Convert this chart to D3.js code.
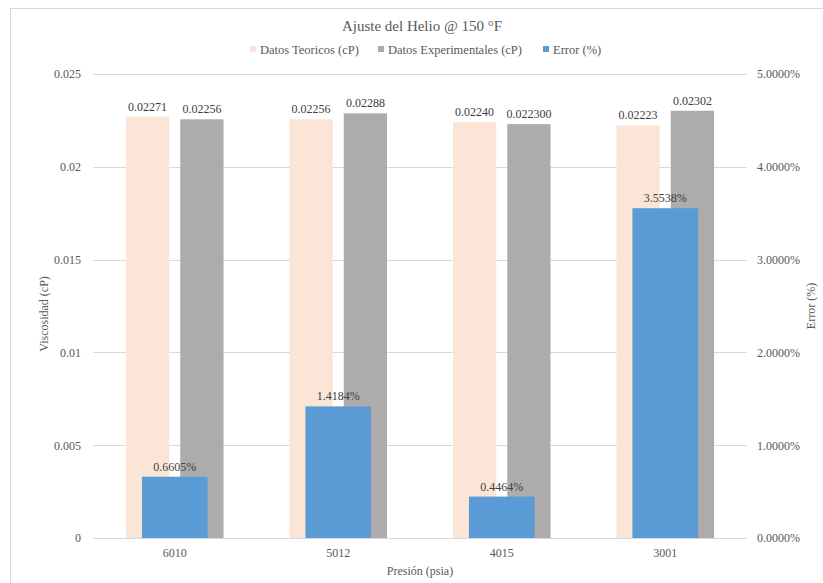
<!DOCTYPE html>
<html>
<head>
<meta charset="utf-8">
<script src="https://cdn.jsdelivr.net/npm/d3@7/dist/d3.min.js"></script>
<style>
  html, body { margin: 0; padding: 0; background: #fff; }
  svg { display: block; }
  svg text { font-family: "Liberation Serif", "Times New Roman", serif; }
</style>
</head>
<body>
<svg id="chart" width="823" height="583"></svg>
<script>
// Pressure categories (psia)
const categories = ["6010", "5012", "4015", "3001"];
// Viscosity values as printed (cP)
const teoricosText = ["0.02271", "0.02256", "0.02240", "0.02223"];
const experimentalesText = ["0.02256", "0.02288", "0.022300", "0.02302"];
// Relative error (%)
const errorPct = [0.6605, 1.4184, 0.4464, 3.5538];
// Axis ticks
const leftTicks = [0, 0.005, 0.01, 0.015, 0.02, 0.025];
const rightTicks = [0, 0.01, 0.02, 0.03, 0.04, 0.05];

const seriesNames = ["Datos Teoricos (cP)", "Datos Experimentales (cP)", "Error (%)"];
const colors = ["#FBE5D6", "#AEABAB", "#5B9BD5"];
const textColor = "#595959";
const gridColor = "#D9D9D9";

const svg = d3.select("#chart");
const plot = { left: 93, right: 747, top: 74, bottom: 538 };

// chart area outline
svg.append("rect")
  .attr("x", 10.5).attr("y", 8.5)
  .attr("width", 830).attr("height", 600)
  .attr("fill", "none").attr("stroke", gridColor);

const x0 = d3.scaleBand().domain(categories).range([plot.left, plot.right]).padding(0);
const x1 = d3.scaleBand().domain(["teo", "exp"]).range([0, x0.bandwidth()])
  .paddingInner(0.2026).paddingOuter(0.607);
const x2 = d3.scaleBand().domain(["err"]).range([0, x0.bandwidth()])
  .paddingInner(0).paddingOuter(0.746);

const yL = d3.scaleLinear().domain([0, 0.025]).range([plot.bottom, plot.top]);
const yR = d3.scaleLinear().domain([0, 0.05]).range([plot.bottom, plot.top]);

// gridlines
svg.append("g").selectAll("line").data(leftTicks).join("line")
  .attr("x1", plot.left).attr("x2", plot.right)
  .attr("y1", d => Math.round(yL(d)) + 0.5).attr("y2", d => Math.round(yL(d)) + 0.5)
  .attr("stroke", gridColor).attr("stroke-width", 1);

function styleAxis(g) {
  g.attr("font-family", null).attr("font-size", null);
  g.select(".domain").remove();
  g.selectAll("text").attr("fill", textColor).attr("font-size", 12);
}

// left axis
svg.append("g").attr("transform", `translate(${plot.left},0)`)
  .call(d3.axisLeft(yL).tickValues(leftTicks)
    .tickFormat(d => d === 0 ? "0" : String(+d.toFixed(3))).tickSize(0).tickPadding(12))
  .call(styleAxis);

// right axis
svg.append("g").attr("transform", `translate(${plot.right},0)`)
  .call(d3.axisRight(yR).tickValues(rightTicks).tickFormat(d3.format(".4%")).tickSize(0).tickPadding(10))
  .call(styleAxis);

// bottom axis
svg.append("g").attr("transform", `translate(0,${plot.bottom})`)
  .call(d3.axisBottom(x0).tickSize(0).tickPadding(10))
  .call(styleAxis);

const rows = categories.map((c, i) => ({
  cat: c,
  teo: +teoricosText[i], teoLabel: teoricosText[i],
  exp: +experimentalesText[i], expLabel: experimentalesText[i],
  err: errorPct[i] / 100, errLabel: errorPct[i].toFixed(4) + "%"
}));

// viscosity bars
const groups = svg.append("g").selectAll("g").data(rows).join("g")
  .attr("transform", d => `translate(${x0(d.cat)},0)`);

[["teo", 0], ["exp", 1]].forEach(([key, ci]) => {
  groups.append("rect")
    .attr("x", x1(key)).attr("width", x1.bandwidth())
    .attr("y", d => yL(d[key])).attr("height", d => plot.bottom - yL(d[key]))
    .attr("fill", colors[ci]);
  groups.append("text")
    .attr("x", x1(key) + x1.bandwidth() / 2)
    .attr("y", d => yL(d[key]) - 6)
    .attr("text-anchor", "middle").attr("font-size", 12).attr("fill", "#404040")
    .text(d => d[key + "Label"]);
});

// error bars (secondary axis)
groups.append("rect")
  .attr("x", x2("err")).attr("width", x2.bandwidth())
  .attr("y", d => yR(d.err)).attr("height", d => plot.bottom - yR(d.err))
  .attr("fill", colors[2]);
groups.append("text")
  .attr("x", x2("err") + x2.bandwidth() / 2)
  .attr("y", d => yR(d.err) - 6)
  .attr("text-anchor", "middle").attr("font-size", 12).attr("fill", "#404040")
  .text(d => d.errLabel);

// title
svg.append("text").attr("x", 422).attr("y", 31).attr("text-anchor", "middle")
  .attr("font-size", 15).attr("fill", textColor).text("Ajuste del Helio @ 150 °F");

// legend
const legendX = [250, 378, 543];
const lg = svg.append("g").selectAll("g").data(seriesNames).join("g")
  .attr("transform", (d, i) => `translate(${legendX[i]},50)`);
lg.append("rect").attr("x", 0).attr("y", -4).attr("width", 6).attr("height", 6)
  .attr("fill", (d, i) => colors[i]);
lg.append("text").attr("x", 10).attr("y", 4).attr("font-size", 12.5).attr("fill", textColor)
  .text(d => d);

// axis titles
svg.append("text").attr("transform", `translate(48,${(plot.top + plot.bottom) / 2 + 8}) rotate(-90)`)
  .attr("text-anchor", "middle").attr("font-size", 12).attr("fill", textColor).text("Viscosidad (cP)");
svg.append("text").attr("transform", `translate(815,${(plot.top + plot.bottom) / 2}) rotate(-90)`)
  .attr("text-anchor", "middle").attr("font-size", 12).attr("fill", textColor).text("Error (%)");
svg.append("text").attr("x", 420).attr("y", 575).attr("text-anchor", "middle")
  .attr("font-size", 12).attr("fill", textColor).text("Presión (psia)");
</script>
</body>
</html>
